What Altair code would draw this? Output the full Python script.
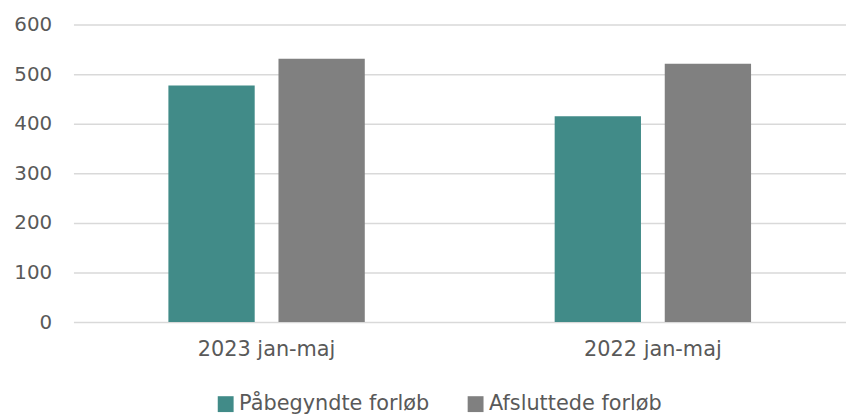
import altair as alt
import pandas as pd

categories = ["2023 jan-maj", "2022 jan-maj"]
series = ["Påbegyndte forløb", "Afsluttede forløb"]
pabegyndte = [477, 415]
afsluttede = [531, 521]
colors = ["#418B88", "#808080"]
y_ticks = [0, 100, 200, 300, 400, 500, 600]

rows = []
for i, c in enumerate(categories):
    rows.append({"kategori": c, "serie": series[0], "antal": pabegyndte[i]})
    rows.append({"kategori": c, "serie": series[1], "antal": afsluttede[i]})
df = pd.DataFrame(rows)

font = "DejaVu Sans"
text_color = "#595959"

chart = alt.Chart(df).mark_bar().encode(
    x=alt.X(
        "kategori:N", sort=categories, title=None,
        scale=alt.Scale(paddingInner=0, paddingOuter=0),
        axis=alt.Axis(labelAngle=0, domain=False, ticks=False, grid=False,
                      labelFontSize=21, labelColor=text_color, labelFont=font,
                      labelPadding=17),
    ),
    xOffset=alt.XOffset(
        "serie:N", sort=series,
        scale=alt.Scale(paddingInner=0.216, paddingOuter=0.8625),
    ),
    y=alt.Y(
        "antal:Q", title=None,
        scale=alt.Scale(domain=[0, 600], nice=False),
        axis=alt.Axis(values=y_ticks, domain=False, ticks=False,
                      gridColor="#d9d9d9", gridWidth=1.5,
                      labelFontSize=20, labelColor=text_color, labelFont=font,
                      labelPadding=22),
    ),
    color=alt.Color(
        "serie:N", sort=series,
        scale=alt.Scale(domain=series, range=colors),
        legend=alt.Legend(
            title=None, orient="none", legendX=143, legendY=372,
            direction="horizontal", symbolType="square", symbolSize=256,
            symbolStrokeWidth=0, labelFontSize=21, labelFont=font,
            labelColor=text_color, columnPadding=36, labelOffset=3,
            labelLimit=0,
        ),
    ),
).properties(
    width=779, height=300,
    padding={"left": 66, "top": 15, "right": 0, "bottom": 92},
    autosize="none",
).configure_view(stroke=None)

chart.save("out.html", embed_options={"renderer": "svg", "actions": False})
